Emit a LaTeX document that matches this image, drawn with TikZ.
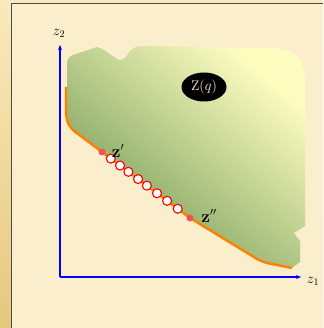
\documentclass[tikz,border=0pt]{standalone}
\usetikzlibrary{arrows.meta,calc,shapes.geometric}
\definecolor{bgcream}{RGB}{251,238,205}
\definecolor{striptop}{RGB}{250,234,188}
\definecolor{stripbot}{RGB}{229,200,125}
\definecolor{regdark}{RGB}{112,152,84}
\definecolor{reglight}{RGB}{253,253,192}
\definecolor{frontorange}{RGB}{255,128,0}
\definecolor{ptred}{RGB}{238,84,84}

\begin{document}
\begin{tikzpicture}[x=1pt, y=-1pt,
    axis/.style={draw=blue, line width=1.3pt, -{Stealth[length=5pt, width=4pt]}},
    front/.style={draw=frontorange, line width=2.4pt, rounded corners=6pt},
    extpt/.style={circle, fill=ptred, inner sep=0pt, minimum size=7pt},
    midpt/.style={circle, draw=red, fill=white, line width=1.1pt, inner sep=0pt, minimum size=9pt},
    ptlbl/.style={font=\bfseries\fontsize{16}{16}\selectfont},
    axlbl/.style={font=\fontsize{14}{14}\selectfont}
]
\useasboundingbox (0,0) rectangle (323,328);

% === Fondo: franja dorada y hoja crema ===
\shade[top color=striptop, bottom color=stripbot] (0,0) rectangle (323,328);
\fill[bgcream] (11.5,3.5) rectangle (323,328);
\draw[black!70, line width=1.2pt] (11.5,328) -- (11.5,3.5) -- (323,3.5);

% === Puntos de la frontera ===
\coordinate (zp) at (102,152);
\coordinate (zpp) at (190,218);

% === Region Z(q) (sombreado verde) ===
\shade[top color=reglight, bottom color=regdark, shading angle=-40]
    (67,57) -- (97,47) .. controls (108,50) and (115,60) .. (121,60)
    .. controls (127,60) and (129,46) .. (141,46) -- (258,48)
    .. controls (266,47) and (285,48) .. (294,54)
    .. controls (305,62) and (305,75) .. (305,90) -- (305,226)
    -- (294,233) -- (300,241) -- (300,262) -- (292,268)
    [rounded corners=6pt] -- (262,262) -- (244,251) -- (zpp) -- (zp)
    -- (70,128) -- (67,118) -- cycle;

% === Frontera (curva naranja) ===
\draw[front] (66,87) -- (66,118) -- (70,128) -- (zp) -- (zpp)
    -- (244,251) -- (262,262) -- (292,268);

% === Ejes ===
\coordinate (O) at (60,277);
\coordinate (xend) at (301,277);
\coordinate (yend) at (60,45);
\draw[axis] (O) -- (xend);
\draw[axis] (O) -- (yend);
\node[axlbl] (z1lbl) at (313,281) {$z_1$};
\node[axlbl] (z2lbl) at (59,33) {$z_2$};

% === Etiqueta de la region ===
\node[ellipse, fill=black, text=bgcream, minimum width=45pt, minimum height=29pt,
    inner sep=0pt, font=\fontsize{14}{14}\selectfont] (Zq) at (204,87) {Z($q$)};

% === Puntos intermedios ===
\foreach \f [count=\i] in {0.10,0.205,0.30,0.41,0.51,0.625,0.74,0.86}
    \node[midpt] (m\i) at ($(zp)!\f!(zpp)$) {};

% === Extremos z' y z'' ===
\node[extpt] (zpdot) at (zp) {};
\node[extpt] (zppdot) at (zpp) {};
\node[ptlbl] (zplbl) at (118,151) {$\mathbf{z}'$};
\node[ptlbl] (zpplbl) at (209,216) {$\mathbf{z}''$};

\end{tikzpicture}
\end{document}
